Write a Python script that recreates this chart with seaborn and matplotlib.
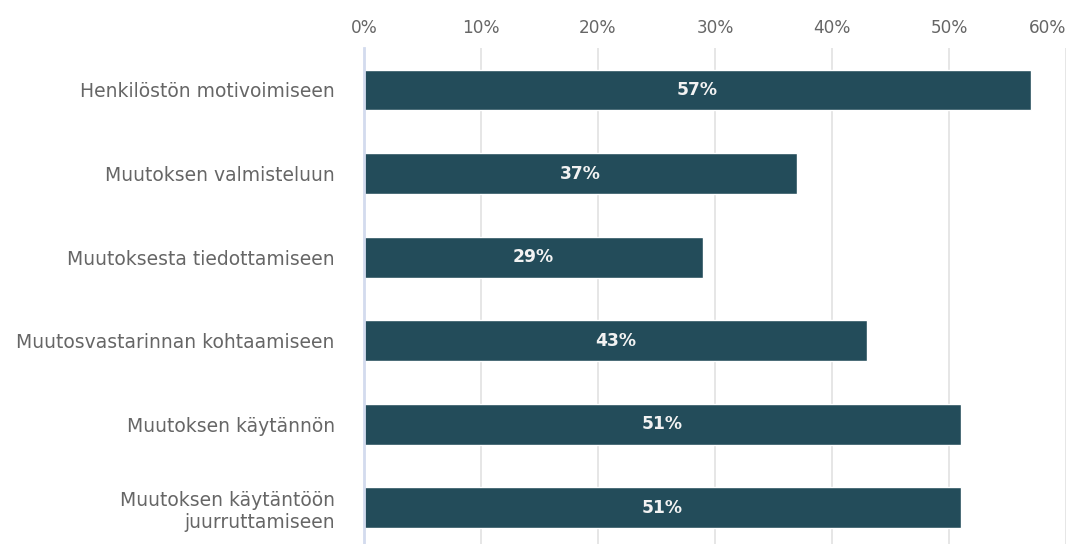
import matplotlib
matplotlib.use("Agg")
import matplotlib.pyplot as plt
import seaborn as sns
import pandas as pd

# Survey shares per area of change management
categories = [
    "Henkilöstön motivoimiseen",
    "Muutoksen valmisteluun",
    "Muutoksesta tiedottamiseen",
    "Muutosvastarinnan kohtaamiseen",
    "Muutoksen käytännön",
    "Muutoksen käytäntöön\njuurruttamiseen",
]
shares = [57, 37, 29, 43, 51, 51]
tick_values = [0, 10, 20, 30, 40, 50, 60]
tick_labels = [f"{v}%" for v in tick_values]

bar_color = "#234c5a"
text_gray = "#666666"

sns.set_theme(style="white")
plt.rcParams["font.family"] = ["DejaVu Sans"]

fig = plt.figure(figsize=(10.71, 5.44), dpi=100)
ax = fig.add_axes([364 / 1071, 1 - 549.6 / 544, 702 / 1071, (549.6 - 48.2) / 544])

df = pd.DataFrame({"category": categories, "share": shares})
sns.barplot(
    data=df, x="share", y="category", orient="h",
    color=bar_color, saturation=1, width=0.49, ax=ax, zorder=2,
)

ax.set_xlim(0, 60)
ax.set_ylim(len(categories) - 0.5, -0.5)
ax.set_xlabel("")
ax.set_ylabel("")

# Vertical gridlines behind the bars
ax.set_axisbelow(True)
ax.xaxis.grid(True, color="#e4e4e4", linewidth=1.3)
ax.yaxis.grid(False)

for side in ("top", "right", "bottom"):
    ax.spines[side].set_visible(False)
ax.spines["left"].set_color("#d3dbee")
ax.spines["left"].set_linewidth(2)
ax.spines["left"].set_zorder(3)

# Percentage scale along the top
ax.xaxis.tick_top()
ax.set_xticks(tick_values)
ax.set_xticklabels(tick_labels)
ax.tick_params(axis="x", length=0, pad=8, labelsize=12.2, colors=text_gray)
ax.get_xticklabels()[-1].set_ha("right")

ax.tick_params(axis="y", length=0, pad=21, labelsize=13.5, colors=text_gray)

# Value labels centred inside each bar
ax.bar_label(
    ax.containers[0], labels=[f"{v}%" for v in shares], label_type="center",
    color="#f2f2f2", fontsize=12.3, fontweight="bold",
)

fig.savefig("out.png", dpi=100)
